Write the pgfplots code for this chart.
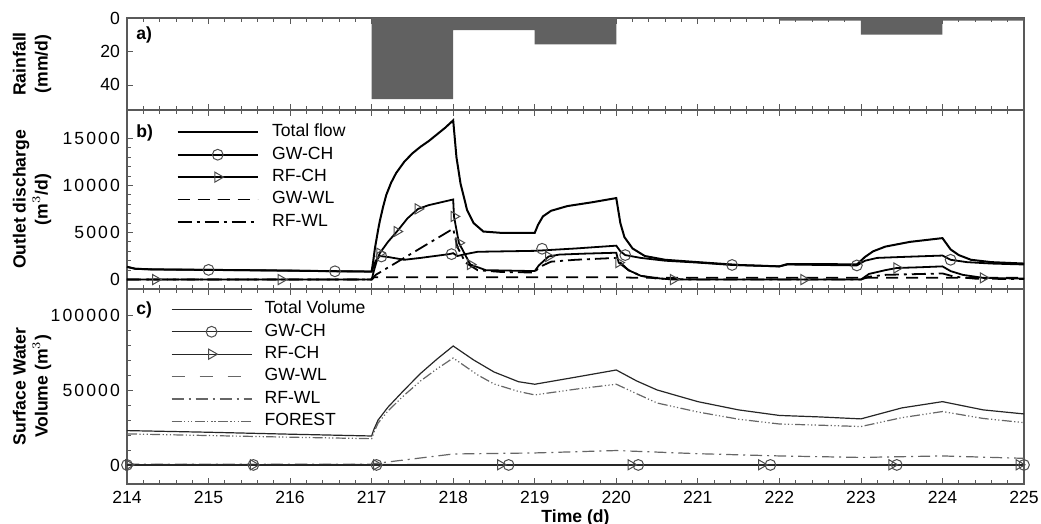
\documentclass[border=0pt]{standalone}
\usepackage{fontspec}
\setmainfont{Liberation Sans}
\newfontfamily\spaced{Liberation Sans}[LetterSpace=12]
\usepackage{pgfplots}
\pgfplotsset{compat=1.18}

% 1 px of the reference = 0.5pt
\pgfplotsset{
  panel/.style={
    scale only axis, width=448.5pt, xmin=214, xmax=225,
    xtick={214,...,225}, minor x tick num=4,
    tick align=inside, xtick pos=both, ytick pos=left,
    axis line style={black!65, line width=0.6pt},
    every tick/.style={black!65, line width=0.4pt},
    major tick length=3pt, minor tick length=1.8pt,
    /pgf/number format/fixed, /pgf/number format/precision=0,
    /pgf/number format/assume math mode=true,
    /pgf/number format/set thousands separator={},
    scaled y ticks=false, scaled x ticks=false,
    ticklabel style={font=\fontsize{8.8}{10}\selectfont},
    ylabel style={at={(axis description cs:-0.1057,0.5)}, anchor=center,
      align=center, font=\bfseries\fontsize{8.8}{11}\selectfont},
    legend image code/.code={\draw[mark repeat=2,mark phase=2,##1]
      plot coordinates {(0pt,0pt) (20pt,0pt) (40pt,0pt)};},
    legend cell align=left,
  },
  circ/.style={only marks, mark=o, mark size=2.7pt,
    mark options={solid, black!70, line width=0.5pt}},
  tri/.style={only marks, mark=triangle, mark size=2.9pt,
    mark options={solid, rotate=-90, black!70, line width=0.5pt}},
}

\begin{document}
\begin{tikzpicture}
\useasboundingbox (0,0) rectangle (520.5pt,262pt);

% ---------- a) rainfall
\begin{axis}[panel, at={(63.5pt,207pt)}, anchor=south west, height=46pt,
  ymin=0, ymax=55, y dir=reverse, ytick={0,20,40},
  xticklabels={}, ylabel={Rainfall\\(mm/d)}]
\addplot[const plot, fill=black!62, draw=none] coordinates {
  (214,0) (217,48.5) (218,7.3) (219,15.8) (220,0) (222,1.5) (223,10) (224,1.5) (225,1.5)
} \closedcycle;
\node[anchor=north west, inner sep=0pt, font=\bfseries\fontsize{8.8}{10}\selectfont]
  at ([xshift=4.5pt,yshift=-4pt]rel axis cs:0,1) {a)};
\end{axis}

% ---------- b) outlet discharge
\begin{axis}[panel, at={(63.5pt,117.5pt)}, anchor=south west, height=89.5pt,
  ymin=-1000, ymax=18000, ytick={0,5000,10000,15000}, minor y tick num=4,
  yticklabel style={font=\spaced\fontsize{8.8}{10}\selectfont},
  xticklabels={}, ylabel={Outlet discharge\\(m$^3$/d)},
  legend style={draw=none, fill=none, at={(axis description cs:0.055,0.94)},
    anchor=north west, inner sep=0pt, row sep=0pt,
    font=\fontsize{8.8}{10}\selectfont,
    nodes={inner sep=1.2pt, text height=6.6pt, text depth=2.2pt},
    /tikz/every odd column/.append style={column sep=5.5pt}}]
\addlegendimage{black, line width=1pt}
\addlegendentry{Total flow}
\addlegendimage{black, line width=0.9pt, mark=o, mark size=2.7pt, mark options={black!70, line width=0.5pt}}
\addlegendentry{GW-CH}
\addlegendimage{black, line width=0.9pt, mark=triangle, mark size=2.9pt, mark options={rotate=-90, black!70, line width=0.5pt}}
\addlegendentry{RF-CH}
\addlegendimage{black, line width=0.9pt, dash pattern=on 6pt off 4pt}
\addlegendentry{GW-WL}
\addlegendimage{black, line width=0.9pt, dash pattern=on 7pt off 2.5pt on 1.5pt off 2.5pt}
\addlegendentry{RF-WL}

% Total flow
\addplot[forget plot, black, line width=1pt] coordinates {
  (214,1350) (214.1,1150) (214.3,1080) (215,1030) (216,950) (216.6,880) (217,850)
  (217.02,2000) (217.04,3300) (217.06,4300) (217.08,5300) (217.1,6200) (217.14,7700)
  (217.18,9000) (217.24,10300) (217.3,11300) (217.4,12500) (217.5,13400) (217.6,14100)
  (217.7,14700) (217.8,15400) (217.9,16100) (218,16900) (218.04,13000) (218.09,10200)
  (218.17,7400) (218.25,6000) (218.37,5100) (218.6,4950) (219,4950) (219.04,5800)
  (219.1,6700) (219.2,7300) (219.4,7800) (219.7,8200) (220,8650) (220.05,6000)
  (220.1,4500) (220.2,3300) (220.35,2500) (220.6,2100) (221,1850) (221.5,1550)
  (222,1400) (222.1,1650) (222.5,1650) (222.95,1600) (223.05,2400) (223.15,3000)
  (223.3,3500) (223.6,4000) (224,4400) (224.1,3200) (224.2,2600) (224.35,2100)
  (224.6,1850) (225,1700)
};
% GW-CH
\addplot[forget plot, black, line width=0.9pt] coordinates {
  (214,1350) (214.1,1150) (214.3,1080) (215,1030) (216,950) (216.6,880) (217,850)
  (217.05,2000) (217.1,2500) (217.2,2400) (217.4,2100) (217.6,2300) (217.95,2700)
  (218,2800) (218.05,2500) (218.15,2700) (218.3,2950) (219,3050) (219.5,3300)
  (220,3600) (220.05,3000) (220.11,2600) (220.3,2300) (220.6,2000) (221,1800)
  (221.42,1550) (222,1400) (222.1,1600) (222.5,1550) (222.95,1500) (223.05,2000)
  (223.2,2300) (223.5,2400) (224,2550) (224.1,2100) (224.3,1850) (224.6,1700) (225,1600)
};
\addplot[forget plot, circ] coordinates {
  (215,1030) (216.55,880) (217.12,2450) (217.98,2700) (219.09,3270) (220.11,2600)
  (221.42,1550) (222.95,1500) (224.1,2100)
};
% RF-CH
\addplot[forget plot, black, line width=0.9pt] coordinates {
  (214,0) (217,0) (217.03,1000) (217.06,1900) (217.1,2800) (217.2,4000) (217.31,5100)
  (217.44,6500) (217.57,7500) (217.7,7900) (217.85,8200) (218,8500) (218.01,6700)
  (218.07,3900) (218.21,1600) (218.4,1000) (219,900) (219.05,1500) (219.17,2450)
  (219.3,2650) (219.6,2750) (220,2850) (220.03,1800) (220.15,1000) (220.3,400)
  (220.5,150) (220.7,0) (223,0) (223.1,600) (223.3,1000) (223.44,1230) (223.7,1300)
  (224,1400) (224.1,900) (224.25,500) (224.5,180) (225,100)
};
\addplot[forget plot, tri] coordinates {
  (214.35,0) (215.89,0) (217.1,2800) (217.31,5100) (217.57,7500) (218.01,6700)
  (218.07,3900) (218.21,1600) (219.17,2450) (220.03,1800) (220.7,0) (222.3,0)
  (223.44,1230) (224.5,180)
};
% GW-WL
\addplot[forget plot, black, line width=0.9pt, dash pattern=on 6pt off 4pt] coordinates {
  (214,0) (217,0) (217.03,250) (220,250) (220.2,200) (225,200)
};
% RF-WL
\addplot[forget plot, black, line width=0.9pt, dash pattern=on 7pt off 2.5pt on 1.5pt off 2.5pt] coordinates {
  (214,0) (217,0) (217.05,500) (218,5400) (218.05,3500) (218.15,1800) (218.3,1000)
  (218.6,800) (219,750) (219.05,1300) (219.2,1900) (219.5,2100) (220,2300)
  (220.05,1800) (220.15,1000) (220.3,400) (220.5,100) (221,0) (223,0) (223.1,300)
  (223.3,500) (224,650) (224.15,300) (224.4,100) (225,50)
};
\node[anchor=north west, inner sep=0pt, font=\bfseries\fontsize{8.8}{10}\selectfont]
  at ([xshift=4.5pt,yshift=-7pt]rel axis cs:0,1) {b)};
\end{axis}

% ---------- c) surface water volume
\begin{axis}[panel, at={(63.5pt,20pt)}, anchor=south west, height=97.5pt,
  ymin=-12700, ymax=117300, ytick={0,50000,100000}, minor y tick num=4,
  yticklabel style={font=\spaced\fontsize{8.8}{10}\selectfont},
  xlabel={Time (d)}, xlabel style={font=\bfseries\fontsize{8.8}{10}\selectfont, yshift=4pt},
  ylabel={Surface Water\\Volume (m$^3$)},
  legend style={draw=none, fill=none, at={(axis description cs:0.0486,0.955)},
    anchor=north west, inner sep=0pt, row sep=0pt,
    font=\fontsize{8.8}{10}\selectfont,
    nodes={inner sep=1.2pt, text height=6.6pt, text depth=2.2pt},
    /tikz/every odd column/.append style={column sep=5pt}}]
\addlegendimage{black!85, line width=0.6pt}
\addlegendentry{Total Volume}
\addlegendimage{black!85, line width=0.6pt, mark=o, mark size=2.7pt, mark options={black!70, line width=0.5pt}}
\addlegendentry{GW-CH}
\addlegendimage{black!85, line width=0.6pt, mark=triangle, mark size=2.9pt, mark options={rotate=-90, black!70, line width=0.5pt}}
\addlegendentry{RF-CH}
\addlegendimage{black!60, line width=0.6pt, dash pattern=on 6.5pt off 7.5pt}
\addlegendentry{GW-WL}
\addlegendimage{black!60, line width=0.6pt, dash pattern=on 6pt off 2.5pt on 1pt off 2.5pt}
\addlegendentry{RF-WL}
\addlegendimage{black!60, line width=0.6pt, dash pattern=on 5pt off 1.2pt on 0.6pt off 1.2pt on 0.6pt off 1.2pt on 0.6pt off 1.2pt}
\addlegendentry{FOREST}

% Total Volume
\addplot[forget plot, black!85, line width=0.6pt] coordinates {
  (214,22900) (215,21800) (216,20500) (217,19300) (217.03,24000) (217.08,30000)
  (217.2,38500) (217.4,50000) (217.6,61000) (217.8,70500) (218,79300) (218.25,70000)
  (218.5,62000) (218.8,55500) (219,53800) (219.5,58500) (220,63300) (220.25,56000)
  (220.5,50000) (221,42200) (221.5,36700) (222,33000) (222.5,32000) (223,30700)
  (223.5,38000) (224,42200) (224.5,36700) (225,34000)
};
% FOREST
\addplot[forget plot, black!60, line width=0.6pt, dash pattern=on 5pt off 1.2pt on 0.6pt off 1.2pt on 0.6pt off 1.2pt on 0.6pt off 1.2pt] coordinates {
  (214,20700) (215,19600) (216,18500) (217,17500) (217.03,22000) (217.08,28000)
  (217.2,36000) (217.4,46500) (217.6,56000) (217.8,64000) (218,71300) (218.3,60000)
  (218.5,54000) (218.8,49000) (219,46700) (219.5,50500) (220,53800) (220.25,47500)
  (220.5,41300) (221,35300) (221.5,30500) (222,27300) (222.5,26500) (223,25600)
  (223.5,31500) (224,35600) (224.5,31000) (225,28200)
};
% RF-WL
\addplot[forget plot, black!60, line width=0.6pt, dash pattern=on 6pt off 2.5pt on 1pt off 2.5pt] coordinates {
  (214,500) (217,500) (217.05,1000) (218,7300) (219,8000) (220,9600) (221,7500)
  (222,6000) (223,5000) (224,6000) (225,4400)
};
% GW-WL
\addplot[forget plot, black!60, line width=0.6pt, dash pattern=on 6.5pt off 7.5pt] coordinates {
  (214,300) (217,300) (218,200) (225,200)
};
% GW-CH
\addplot[forget plot, black!85, line width=0.6pt] coordinates {(214,0) (225,0)};
\addplot[forget plot, circ] coordinates {
  (214,0) (215.55,0) (217.06,0) (218.68,0) (220.27,0) (221.89,0) (223.44,0) (225,0)
};
% RF-CH
\addplot[forget plot, black!85, line width=0.6pt] coordinates {(214,100) (225,100)};
\addplot[forget plot, tri] coordinates {
  (214.02,100) (215.55,100) (217.06,100) (218.58,100) (220.18,100) (221.78,100)
  (223.38,100) (224.94,100)
};
\node[anchor=north west, inner sep=0pt, font=\bfseries\fontsize{8.8}{10}\selectfont]
  at ([xshift=4.5pt,yshift=-6pt]rel axis cs:0,1) {c)};
\end{axis}
\end{tikzpicture}
\end{document}
